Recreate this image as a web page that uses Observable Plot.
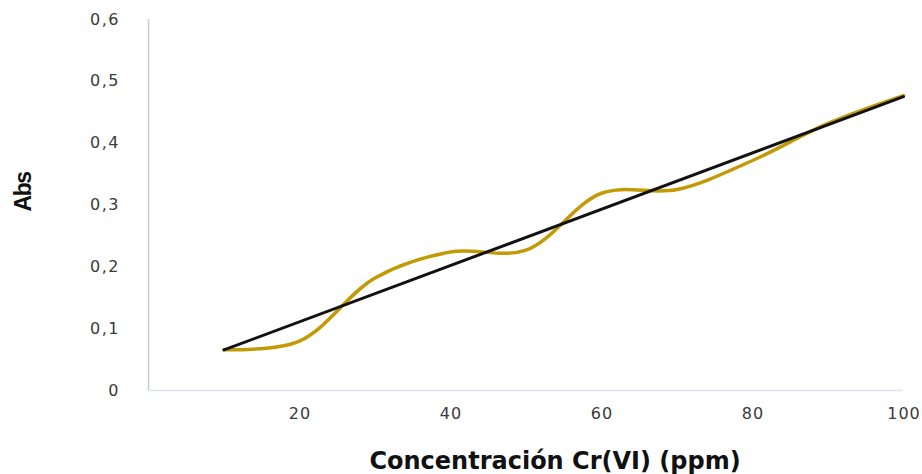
<!DOCTYPE html>
<html>
<head>
<meta charset="utf-8">
<script src="https://cdn.jsdelivr.net/npm/d3@7"></script>
<script src="https://cdn.jsdelivr.net/npm/@observablehq/plot@0.6"></script>
<style>
  html, body { margin: 0; padding: 0; background: #fff; }
  #chart { width: 922px; height: 474px; }
  g[aria-label="y-axis tick label"] text { letter-spacing: 1.5px; }
  g[aria-label="x-axis tick label"] text { letter-spacing: 1px; }
</style>
</head>
<body>
<div id="chart"></div>
<script>
// Concentración de Cr(VI) en ppm
const concentration = [10, 20, 30, 40, 50, 60, 70, 80, 90, 100];
// Absorbancia medida
const absorbance = [0.066, 0.080, 0.182, 0.224, 0.227, 0.319, 0.325, 0.372, 0.432, 0.477];
// Ejes
const xTicks = [20, 40, 60, 80, 100];
const yTicks = [0, 0.1, 0.2, 0.3, 0.4, 0.5, 0.6];
const xTitle = "Concentración Cr(VI) (ppm)";
const yTitle = "Abs";

const data = concentration.map((c, i) => ({c, a: absorbance[i]}));
const fmt = d => String(d).replace(".", ",");

const chart = Plot.plot({
  width: 922,
  height: 474,
  marginLeft: 148,
  marginRight: 19,
  marginTop: 19,
  marginBottom: 84,
  style: {fontFamily: "'DejaVu Sans', Verdana, sans-serif", color: "#3a3a3a", background: "#fff"},
  x: {domain: [0, 100]},
  y: {domain: [0, 0.6]},
  marks: [
    Plot.ruleX([0], {stroke: "#c3cddb", strokeWidth: 1.5}),
    Plot.ruleY([0], {stroke: "#dde3ec", strokeWidth: 1.5}),
    Plot.axisX({ticks: xTicks, tickSize: 0, tickPadding: 17, fontSize: 16, dx: 0.5, label: null, tickFormat: d => String(d)}),
    Plot.axisY({ticks: yTicks, tickSize: 0, tickPadding: 28.5, fontSize: 16, label: null, tickFormat: fmt}),
    Plot.line(data, {x: "c", y: "a", curve: "catmull-rom", stroke: "#c29a06", strokeWidth: 3.5}),
    Plot.linearRegressionY(data, {x: "c", y: "a", stroke: "#121212", strokeWidth: 3, ci: 0}),
    Plot.text([xTitle], {text: d => d, frameAnchor: "bottom", textAnchor: "middle", lineAnchor: "middle", dx: 29, dy: 71, fontSize: 24, fontWeight: "bold", fill: "#111"}),
    Plot.text([yTitle], {text: d => d, frameAnchor: "left", textAnchor: "middle", lineAnchor: "middle", rotate: -90, dx: -125, dy: -13, fontSize: 23, fontWeight: "bold", fill: "#111", fontFamily: "'Liberation Sans', Arial, sans-serif"})
  ]
});
d3.select(chart).selectAll("text")
  .filter(function() { return this.textContent === yTitle; })
  .attr("letter-spacing", "-1.5px");
document.getElementById("chart").appendChild(chart);
</script>
</body>
</html>
